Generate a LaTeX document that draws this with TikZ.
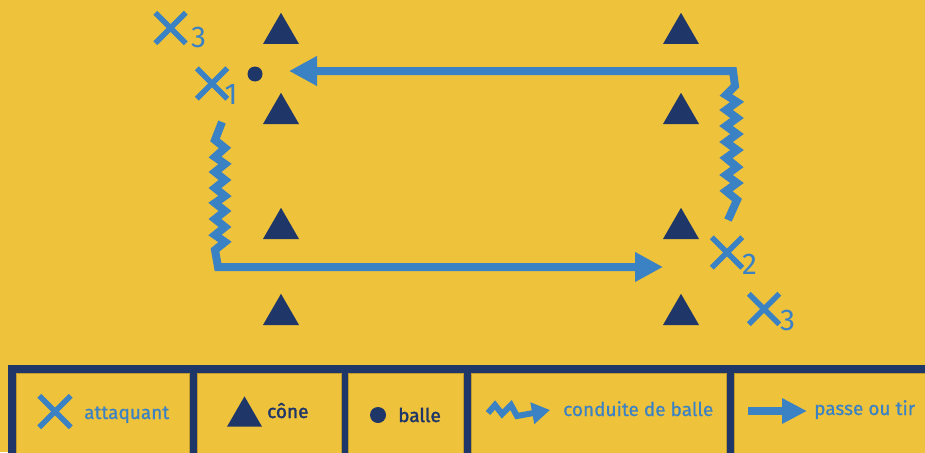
\documentclass[tikz,border=0pt]{standalone}
\usepackage{fontspec}
\setmainfont{Fira Sans}
\newfontfamily\keyfont[FakeBold=0.7]{Fira Sans}
\newfontfamily\keyboldfont[FakeBold=1.8]{Fira Sans}
\usetikzlibrary{arrows.meta,shapes.geometric,shapes.misc}
\definecolor{pitch}{RGB}{239,194,59}
\definecolor{navy}{RGB}{31,54,104}
\definecolor{play}{RGB}{59,130,196}
\begin{document}
\begin{tikzpicture}[x=1pt,y=-1pt,
  cone/.style={regular polygon, regular polygon sides=3, fill=navy,
    inner sep=0pt, outer sep=0pt, minimum size=41.6pt},
  ball/.style={circle, fill=navy, inner sep=0pt, minimum size=#1},
  ball/.default=15pt,
  player/.style={cross out, draw=play, line width=5.5pt, inner sep=0pt,
    minimum size=25pt},
  sub/.style={text=play, font=\fontsize{30}{30}\selectfont,
    inner sep=0pt, anchor=base west},
  drib/.style={draw=play, line width=7pt, line join=miter},
  pass/.style={draw=play, line width=8pt,
    -{Triangle[length=28pt,width=28pt]}},
  cell/.style={fill=pitch, draw=pitch!80!black, line width=0.6pt,
    anchor=north west, inner sep=0pt, minimum height=90pt},
  keytext/.style={font=\keyfont\fontsize{19}{19}\selectfont, inner sep=0pt,
    anchor=base west, text=play},
  keybold/.style={keytext, text=navy,
    font=\keyboldfont\fontsize{19}{19}\selectfont}
]
\useasboundingbox (0,0) rectangle (925,452);
\clip (0,0) rectangle (925,452);
\fill[pitch] (0,0) rectangle (925,452);

% ---- cones ----
\foreach \cx/\col in {281/l, 681/r}{
  \node[cone] (cone1\col) at (\cx,33.6) {};
  \node[cone] (cone2\col) at (\cx,113.6) {};
  \node[cone] (cone3\col) at (\cx,228.6) {};
  \node[cone] (cone4\col) at (\cx,314.6) {};
}

% ---- ball ----
\node[ball] (ball) at (255,74) {};

% ---- players ----
\node[player] (p3a) at (170.5,28) {};
\node[sub] (p3al) at (191,48) {3};
\node[player] (p1) at (212,83.5) {};
\node[sub] (p1l) at (224.5,104) {1};
\node[player] (p2) at (727,252.5) {};
\node[sub] (p2l) at (742,274) {2};
\node[player] (p3b) at (764,309) {};
\node[sub] (p3bl) at (780,330) {3};

% ---- runs ----
\coordinate (runA) at (222,122);
\coordinate (runAend) at (663,267);
\coordinate (runB) at (728,220);
\coordinate (runBend) at (289,71);

% dribble down the left side, then pass across the bottom
\draw[drib, pass] (runA) -- (215,140) -- (225,148) -- (215,157) -- (225,164)
  -- (215,172) -- (225,180) -- (215,188) -- (225,196) -- (215,203)
  -- (225,211) -- (215,219) -- (225,227) -- (215,235) -- (225,242)
  -- (215,250) -- (218,267) -- (runAend);

% dribble up the right side, then pass back across the top
\draw[drib, pass] (runB) -- (737,200) -- (726,191) -- (737,183) -- (726,175)
  -- (737,167) -- (726,158) -- (737,150) -- (726,142) -- (737,134)
  -- (726,126) -- (737,118) -- (726,110) -- (737,102) -- (726,95)
  -- (735,86) -- (733,71) -- (runBend);

% ---- legend ----
\fill[navy] (8,365) rectangle (935,460);
\node[cell, minimum width=173pt] (k1) at (16,373) {};
\node[cell, minimum width=144pt] (k2) at (197,373) {};
\node[cell, minimum width=115pt] (k3) at (348,373) {};
\node[cell, minimum width=255pt] (k4) at (471,373) {};
\node[cell, minimum width=200pt] (k5) at (734,373) {};

\node[player, minimum size=26pt] (kx) at (55,411.5) {};
\node[keytext] (kxt) at (84,419) {attaquant};

\node[cone, minimum size=40.5pt] (kc) at (244.5,416.6) {};
\node[keybold] (kct) at (267,418) {cône};

\node[ball=16pt] (kb) at (378,415) {};
\node[keybold] (kbt) at (398,422) {balle};

\coordinate (kd) at (488,413);
\coordinate (kdend) at (550,410);
\draw[draw=play, line width=6pt, line join=miter,
  -{Triangle[length=18pt,width=21pt]}]
  (kd) -- (495,405) -- (502,414) -- (511,405) -- (517,416) -- (kdend);
\node[keytext] (kdt) at (563,416) {conduite de balle};

\coordinate (kp) at (748,411);
\coordinate (kpend) at (807,411);
\draw[draw=play, line width=8pt, -{Triangle[length=25pt,width=24pt]}]
  (kp) -- (kpend);
\node[keytext] (kpt) at (814,415) {passe ou tir};
\end{tikzpicture}
\end{document}
